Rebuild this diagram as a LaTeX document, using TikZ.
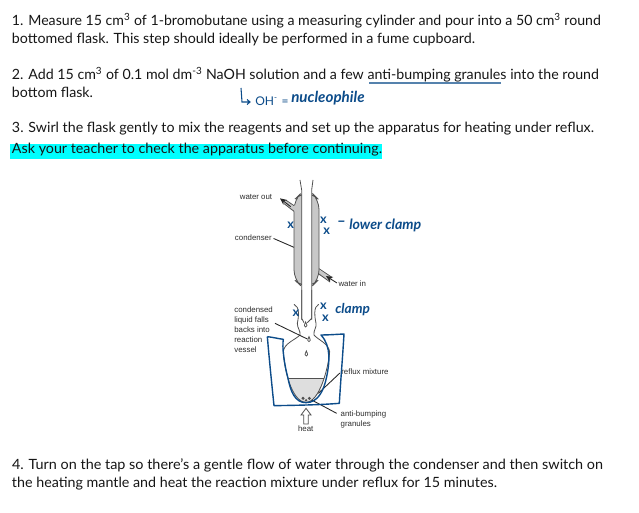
\documentclass[tikz,border=0pt]{standalone}
\usepackage{fontspec}
\usepackage{graphicx}
\setmainfont{Lato}
\newfontfamily\labelfont{Liberation Sans}
\usetikzlibrary{arrows.meta}
\definecolor{ink}{RGB}{22,22,22}
\definecolor{hand}{RGB}{12,76,138}
\definecolor{aqua}{RGB}{0,255,255}
\definecolor{jacket}{RGB}{200,200,200}
\definecolor{liquid}{RGB}{222,222,222}
\definecolor{glass}{RGB}{80,80,80}
\newcommand{\fitpx}[2]{\resizebox{#1\dimexpr 0.75pt\relax}{\height}{#2}}
\tikzset{
  body/.style={anchor=base west,inner sep=0pt,outer sep=0pt,text=ink,font=\fontsize{10.6}{12}\selectfont},
  lab/.style={inner sep=0pt,outer sep=0pt,text=black!82,font=\labelfont\fontsize{5.9}{7.1}\selectfont},
  cross/.style={inner sep=0pt,text=hand,font=\bfseries\fontsize{9.5}{10}\selectfont},
  script/.style={inner sep=0pt,text=hand,font=\itshape\bfseries\fontsize{12}{13}\selectfont},
  glassline/.style={draw=glass,line width=0.6pt},
  leader/.style={draw=black!85,line width=0.65pt},
  mantle/.style={draw=hand,line width=1.05pt,line join=round}
}
\begin{document}
\begin{tikzpicture}[x=0.75pt,y=-0.75pt]
\useasboundingbox (0,0) rectangle (639,513);
\fill[white] (0,0) rectangle (639,513);
\fill[aqua] (10,144) rectangle (382,159);
\node[body] (l1) at (12,26) {\fitpx{589}{1. Measure 15 cm\textsuperscript{3} of 1-bromobutane using a measuring cylinder and pour into a 50 cm\textsuperscript{3} round}};
\node[body] (l2) at (12,44) {\fitpx{463}{bottomed flask. This step should ideally be performed in a fume cupboard.}};
\node[body] (l3) at (12,80) {\fitpx{587}{2. Add 15 cm\textsuperscript{3} of 0.1 mol dm\textsuperscript{-3} NaOH solution and a few anti-bumping granules into the round}};
\node[body] (l4) at (12,98) {\fitpx{81}{bottom flask.}};
\node[body] (l5) at (12,133) {\fitpx{582}{3. Swirl the flask gently to mix the reagents and set up the apparatus for heating under reflux.}};
\node[body] (l6) at (12,154) {\fitpx{370}{Ask your teacher to check the apparatus before continuing.}};
\node[body] (l7) at (12,469) {\fitpx{591}{4. Turn on the tap so there's a gentle flow of water through the condenser and then switch on}};
\node[body] (l8) at (12,487) {\fitpx{485}{the heating mantle and heat the reaction mixture under reflux for 15 minutes.}};
\draw[hand!70,line width=0.8pt] (369,83) -- (501,83);
% note on OH-
\draw[hand,line width=0.8pt] (241,88) -- (242,102) -- (250,102) (247,99.5) -- (250,102) -- (247,104.5);
\node[script,anchor=base west,font=\fontsize{9}{10}\selectfont] (oh) at (255,106) {OH\textsuperscript{-}\hspace{3pt}=};
\node[script,anchor=base west] (nu) at (291,103) {\resizebox{55pt}{!}{nucleophile}};

% condenser (zoom coordinates: 1/3 px)
\begin{scope}[shift={(220,170)},x=0.25pt,y=-0.25pt]
  \fill[jacket] (214,120) -- (190,97) -- (197,90) -- (224,112) -- (224,120) -- cycle;
  \fill[jacket] (292,296) -- (336,322) -- (330,334) -- (292,312) -- cycle;
  \draw[glassline,fill=jacket,rounded corners=7pt] (245,68) -- (222,90) -- (222,328) -- (245,350) -- (275,350) -- (297,328) -- (297,90) -- (275,68) -- cycle;
  \fill[jacket] (205,108) -- (226,106) -- (226,126) -- cycle;
  \fill[white] (245,50) rectangle (275,380);
  \draw[glassline] (240,30) -- (245,60) -- (245,450);
  \draw[glassline] (279,30) -- (275,60) -- (275,450);
  \draw[glassline] (222,107) -- (197,90) (222,124) -- (191,100);
  \draw[glassline] (297,296) -- (336,322) (297,312) -- (330,336);
  \node[lab] (wo) at (108,80) {water out};
  \node[lab] (co) at (100,203) {condenser};
  \node[lab] (wi) at (397,342) {water in};
  \coordinate (woa) at (212,110);
  \coordinate (wob) at (180,85);
  \coordinate (coa) at (222,232);
  \coordinate (wia) at (318,318);
  \draw[leader,shorten <=1.5pt] (co.east) -- (coa);
  \draw[leader,-{Stealth[length=5pt,width=4.5pt]}] (woa) -- (wob);
  \draw[leader,shorten <=1.5pt,-{Stealth[length=5pt,width=4.5pt]}] (wi.west) -- (wia);
  \node[cross] (x1) at (212,165) {x};
  \node[cross] (x2) at (310,152) {x};
  \node[cross] (x3) at (320,185) {x};
  \node[script,anchor=west] (lc) at (350,160) {–};
  \node[script,anchor=west] (lc2) at (387,165) {\resizebox{54pt}{!}{lower clamp}};
\end{scope}

% flask and mantle
\begin{scope}[shift={(220,290)},x=0.25pt,y=-0.25pt]
  \fill[liquid] (207,265) .. controls (216,305) and (228,335) .. (258,337) .. controls (288,335) and (304,300) .. (313,265) -- cycle;
  \draw[glassline] (222,43) .. controls (240,50) and (236,80) .. (232,100) .. controls (232,115) and (242,122) .. (240,135) .. controls (225,150) and (192,160) .. (190,185) .. controls (192,235) and (215,337) .. (258,337) .. controls (298,337) and (325,235) .. (329,185) .. controls (325,160) and (295,150) .. (282,135) .. controls (280,120) and (290,115) .. (288,100) .. controls (284,80) and (280,50) .. (296,43);
  \draw[glassline,line width=0.8pt] (207,265) -- (313,265);
  \draw[glassline] (245,0) -- (245,85) -- (252,98) (275,0) -- (275,85) -- (262,98);
  \draw[glassline,fill=white] (257,96) .. controls (252,106) and (252,111) .. (257,111) .. controls (262,111) and (262,106) .. (257,96) -- cycle;
  \draw[glassline,fill=white] (267,140) .. controls (262,150) and (262,155) .. (267,155) .. controls (272,155) and (272,150) .. (267,140) -- cycle;
  \draw[glassline,fill=white] (259,183) .. controls (254,193) and (254,198) .. (259,198) .. controls (264,198) and (264,193) .. (259,183) -- cycle;
  \fill[glass] (249,325) circle (5) (268,325) circle (5) (258,331) circle (4);
  \node[lab,align=left,anchor=north west,font=\labelfont\fontsize{5.9}{7.6}\selectfont] (cl) at (43,50) {condensed\\liquid falls\\backs into\\reaction\\vessel};
  \node[lab,anchor=west] (rm) at (364,245) {reflux mixture};
  \node[lab,anchor=north west,align=left,font=\labelfont\fontsize{5.9}{7.5}\selectfont] (ab) at (362,361) {anti-bumping\\granules};
  \node[lab] (he) at (257,415) {heat};
  \coordinate (cla) at (165,100);
  \coordinate (clb) at (262,147);
  \coordinate (rma) at (295,310);
  \coordinate (aba) at (275,330);
  \coordinate (abb) at (350,370);
  \draw[leader] (cla) -- (clb);
  \draw[leader,shorten <=1.5pt] (rm.west) -- (rma);
  \draw[leader] (aba) -- (abb);
  \draw[glassline,fill=white,line join=miter] (258,355) -- (243,375) -- (251,375) -- (251,402) -- (265,402) -- (265,375) -- (273,375) -- cycle;
  \draw[mantle] (142,140) .. controls (160,142) and (175,146) .. (190,148) .. controls (186,170) and (192,220) .. (204,265) .. controls (212,305) and (225,338) .. (258,338) .. controls (295,338) and (312,300) .. (320,260) .. controls (328,220) and (335,170) .. (303,135) .. controls (325,135) and (350,133) .. (372,132) .. controls (368,200) and (362,270) .. (358,340) .. controls (295,345) and (225,346) .. (162,347) .. controls (155,280) and (148,210) .. (142,140);
  \node[cross] (x4) at (228,70) {x};
  \node[cross] (x5) at (310,50) {x};
  \node[cross] (x6) at (316,84) {x};
  \node[script,anchor=west] (cp) at (345,58) {\resizebox{26pt}{!}{clamp}};
\end{scope}
\end{tikzpicture}
\end{document}
